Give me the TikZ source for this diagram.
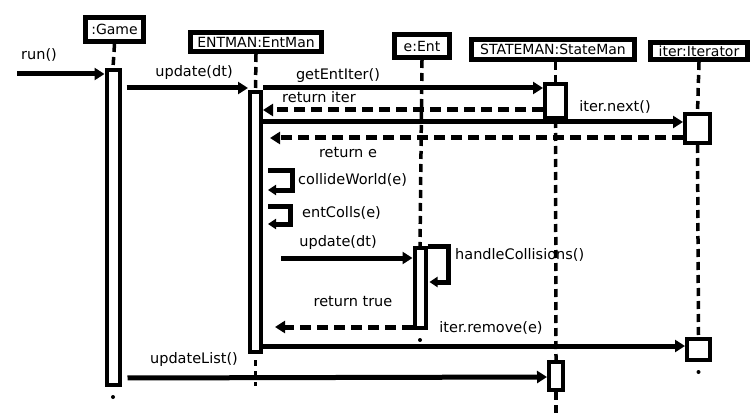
\documentclass[tikz,border=0pt]{standalone}
\usepackage{fontspec}
\setmainfont{DejaVu Sans}
\usetikzlibrary{arrows.meta,backgrounds}
\begin{document}
\begin{tikzpicture}[x=1pt,y=-1pt,
  every node/.style={font=\fontsize{14.5}{17}\selectfont},
  obj/.style={draw,line width=5pt,fill=white,inner sep=1pt,font=\fontsize{14}{17}\selectfont},
  act/.style={draw,line width=4pt,fill=white,inner sep=0pt,anchor=north},
  life/.style={line width=3.5pt,dash pattern=on 8pt off 5pt},
  dots/.style={line width=4pt,line cap=round,dash pattern=on 0pt off 9pt},
  msg/.style={line width=5pt,-{Triangle[length=10pt,width=12pt]}},
  ret/.style={msg,dash pattern=on 11pt off 6pt},
  lbl/.style={inner sep=0pt}]
\useasboundingbox (0,0) rectangle (754,414);
% objects
\node[obj,minimum width=58pt,minimum height=24pt] (game) at (114.5,29.5) {:Game};
\node[obj,minimum width=131pt,minimum height=19pt] (entman) at (256,42) {ENTMAN:EntMan};
\node[obj,minimum width=55pt,minimum height=23pt] (ent) at (422,46) {e:Ent};
\node[obj,minimum width=163pt,minimum height=20pt] (sm) at (553,49.5) {STATEMAN:StateMan};
\node[obj,minimum width=97pt,minimum height=17pt] (it) at (699,51) {iter:Iterator};
% activation bars
\node[act,minimum width=13pt,minimum height=315pt] (gameAct) at (113,68) {};
\node[act,minimum width=11pt,minimum height=260pt] (entAct) at (255.5,90) {};
\node[act,minimum width=11pt,minimum height=80pt] (eAct) at (420,246) {};
\node[act,minimum width=21pt,minimum height=34pt] (smAct1) at (555.5,82) {};
\node[act,minimum width=14pt,minimum height=28pt] (smAct2) at (556,360) {};
\node[act,minimum width=25pt,minimum height=29pt] (itAct1) at (697.5,112) {};
\node[act,minimum width=23pt,minimum height=21pt] (itAct2) at (698.5,337) {};
% lifelines
\coordinate (gameEnd) at (113,405);
\coordinate (entEnd) at (255.5,386);
\coordinate (eEnd) at (420,338);
\coordinate (smEnd) at (556,414);
\coordinate (itEnd) at (698,371);
\begin{scope}[on background layer]
\draw[life] (game.south) -- (gameAct.north);
\draw[dots] ([yshift=-10pt]gameAct.south) -- (gameEnd);
\draw[life] (entman.south) -- (entAct.north);
\draw[life,dash pattern=on 6pt off 5pt] ([yshift=-6pt]entAct.south) -- (entEnd);
\draw[life] (ent.south) -- (eAct.north);
\draw[dots] ([yshift=-10pt]eAct.south) -- (eEnd);
\draw[life] (sm.south -| smAct1.north) -- (smAct1.north);
\draw[life] (smAct1.south) -- (smAct2.north);
\draw[life] (smAct2.south) -- (smEnd);
\draw[life] (it.south) -- (itAct1.north);
\draw[life] (itAct1.south) -- (itAct2.north);
\draw[dots] ([yshift=-10pt]itAct2.south) -- (itEnd);
\end{scope}
% messages
\coordinate (runStart) at (17,74);
\draw[msg] (runStart) -- (gameAct.west |- 0,74);
\node[lbl] (runL) at (39,55) {run()};
\draw[msg,shorten <=5pt] (gameAct.east |- 0,88) -- (entAct.west |- 0,88);
\node[lbl] (upL) at (194,73) {update(dt)};
\draw[msg] (entAct.east |- 0,88) -- (smAct1.west |- 0,88);
\node[lbl] (getL) at (338,76) {getEntIter()};
\draw[ret] (smAct1.west |- 0,110) -- (entAct.east |- 0,110);
\node[lbl] (retIterL) at (319,97) {return iter};
\draw[msg] (entAct.east |- 0,122) -- (itAct1.west |- 0,122);
\node[lbl] (nextL) at (615,107) {iter.next()};
\draw[ret,shorten >=7pt] (itAct1.west |- 0,138) -- (entAct.east |- 0,138);
\node[lbl] (retEL) at (348,153) {return e};
\draw[msg,-{Triangle[length=8pt,width=10pt]},shorten <=5pt] (entAct.east |- 0,171) -- (292,171) -- (292,190) -- ([xshift=5pt]entAct.east |- 0,190);
\node[lbl,anchor=west] (cwL) at (298,180) {collideWorld(e)};
\draw[msg,-{Triangle[length=8pt,width=10pt]},shorten <=5pt] (entAct.east |- 0,206) -- (290,206) -- (290,224) -- ([xshift=5pt]entAct.east |- 0,224);
\node[lbl,anchor=west] (ecL) at (302,213) {entColls(e)};
\draw[msg,shorten <=18pt] (entAct.east |- 0,258) -- (eAct.west |- 0,258);
\node[lbl] (up2L) at (338,242) {update(dt)};
\draw[msg,-{Triangle[length=8pt,width=10pt]}] (eAct.east |- 0,246) -- (448,246) -- (448,282) -- ([xshift=2pt]eAct.east |- 0,282);
\node[lbl,anchor=west] (hcL) at (455,255) {handleCollisions()};
\draw[ret,shorten >=12pt] (eAct.west |- 0,327) -- (entAct.east |- 0,327);
\node[lbl] (rtL) at (353,302) {return true};
\draw[msg] (entAct.east |- 0,346) -- (itAct2.west |- 0,346);
\node[lbl] (remL) at (491,328) {iter.remove(e)};
\draw[msg,shorten <=6pt] (gameAct.east |- 0,378) -- (smAct2.west |- 0,377);
\node[lbl] (ulL) at (194,359) {updateList()};
\end{tikzpicture}
\end{document}
